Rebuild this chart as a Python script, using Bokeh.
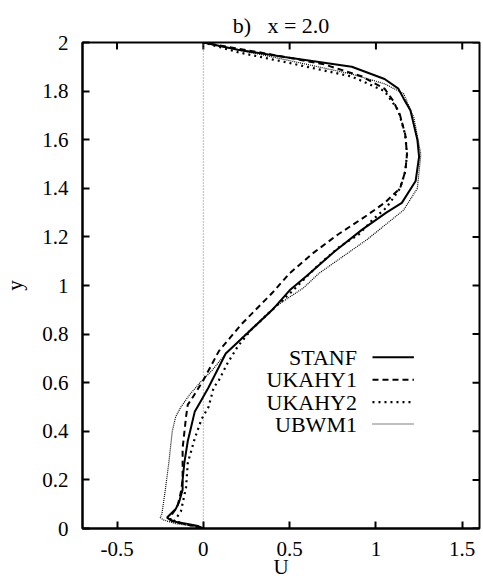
from bokeh.plotting import figure
from bokeh.models import Range1d, FixedTicker
from bokeh.core.properties import value
from bokeh.embed import file_html
from bokeh.resources import INLINE

# ---------------- data ----------------
series_names = ["STANF", "UKAHY1", "UKAHY2", "UBWM1"]

stanf_y = [0.0, 0.01, 0.02, 0.03, 0.045, 0.08, 0.11, 0.16, 0.2, 0.27, 0.36, 0.42, 0.48,
           0.53, 0.58, 0.65, 0.72, 0.82, 0.9, 0.98, 1.04, 1.14, 1.23, 1.30, 1.34, 1.43,
           1.53, 1.60, 1.66, 1.72, 1.77, 1.81, 1.85, 1.90, 1.94, 1.97, 2.0]
stanf_u = [0.0, -0.03, -0.10, -0.18, -0.21, -0.16, -0.14, -0.12, -0.12, -0.11, -0.09, -0.07, -0.05,
           -0.01, 0.03, 0.08, 0.13, 0.28, 0.40, 0.50, 0.60, 0.76, 0.92, 1.06, 1.15, 1.23,
           1.25, 1.24, 1.22, 1.20, 1.16, 1.13, 1.05, 0.86, 0.47, 0.20, 0.0]

ukahy1_y = [0.0, 0.01, 0.02, 0.035, 0.05, 0.09, 0.15, 0.2, 0.33, 0.46, 0.51, 0.53, 0.61,
            0.73, 0.84, 0.97, 1.05, 1.13, 1.21, 1.28, 1.34, 1.40, 1.47, 1.54, 1.62, 1.70,
            1.76, 1.81, 1.86, 1.91, 1.95, 2.0]
ukahy1_u = [0.0, -0.05, -0.12, -0.19, -0.19, -0.15, -0.13, -0.12, -0.12, -0.10, -0.09, -0.07, 0.0,
            0.09, 0.22, 0.40, 0.50, 0.63, 0.78, 0.93, 1.05, 1.14, 1.17, 1.18, 1.17, 1.14,
            1.10, 1.05, 0.92, 0.70, 0.40, 0.0]

ukahy2_y = [0.0, 0.01, 0.02, 0.03, 0.07, 0.17, 0.27, 0.37, 0.45, 0.5, 0.58, 0.61, 0.68,
            0.75, 0.82, 0.9, 0.98, 1.08, 1.16, 1.21, 1.27, 1.32, 1.40, 1.47, 1.54, 1.62,
            1.72, 1.80, 1.86, 1.92, 1.96, 2.0]
ukahy2_u = [0.0, -0.05, -0.12, -0.17, -0.13, -0.10, -0.09, -0.05, -0.01, 0.03, 0.06, 0.09, 0.14,
            0.20, 0.28, 0.40, 0.52, 0.66, 0.79, 0.90, 0.98, 1.06, 1.14, 1.17, 1.18, 1.17,
            1.13, 1.05, 0.86, 0.47, 0.20, 0.0]

ubwm1_y = [0.0, 0.01, 0.02, 0.035, 0.045, 0.06, 0.16, 0.27, 0.40, 0.46, 0.5, 0.55, 0.6,
           0.65, 0.72, 0.81, 0.91, 0.99, 1.05, 1.19, 1.31, 1.40, 1.54, 1.69, 1.79, 1.83,
           1.87, 1.93, 1.97, 2.0]
ubwm1_u = [0.0, -0.06, -0.16, -0.23, -0.25, -0.24, -0.22, -0.20, -0.18, -0.16, -0.13, -0.08, -0.02,
           0.05, 0.13, 0.26, 0.41, 0.58, 0.67, 0.95, 1.16, 1.24, 1.26, 1.22, 1.16, 1.05,
           0.86, 0.47, 0.20, 0.0]

x_ticks = [-0.5, 0.0, 0.5, 1.0, 1.5]
x_tick_labels = ["-0.5", "0", "0.5", "1", "1.5"]
y_ticks = [0.0, 0.2, 0.4, 0.6, 0.8, 1.0, 1.2, 1.4, 1.6, 1.8, 2.0]
y_tick_labels = ["0", "0.2", "0.4", "0.6", "0.8", "1", "1.2", "1.4", "1.6", "1.8", "2"]

zero_line_u = [0.0, 0.0]
zero_line_y = [0.0, 2.0]

title_text = "b)\u00a0\u00a0 x = 2.0"
x_label = "U"
y_label = "y"

# ---------------- layout / styles ----------------
FONT = "Liberation Serif"
W, H = 483, 581
B_LEFT, B_RIGHT, B_TOP, B_BOTTOM = 79, 4, 42, 53
X0, X1, Y0, Y1 = -0.7, 1.6, 0.0, 2.0
TICK_PX = 7

styles = [
    dict(line_width=2.0, line_dash="solid"),
    dict(line_width=2.0, line_dash="6 4"),
    dict(line_width=2.2, line_dash="2 4"),
    dict(line_width=1.2, line_dash="1 1"),
]

p = figure(width=W, height=H, output_backend="svg", toolbar_location=None,
           x_range=Range1d(X0, X1), y_range=Range1d(Y0, Y1),
           min_border_left=B_LEFT, min_border_right=B_RIGHT,
           min_border_top=B_TOP, min_border_bottom=B_BOTTOM,
           background_fill_color="white", border_fill_color="white")
p.grid.visible = False
p.outline_line_color = "black"
p.outline_line_width = 2

p.title.text = title_text
p.title.align = "center"
p.title.text_font = FONT
p.title.text_font_size = "22px"
p.title.text_font_style = "normal"
p.title.text_color = "black"

p.xaxis.axis_label = x_label
p.yaxis.axis_label = y_label

def style_axis(ax, ticks, labels):
    ax.ticker = FixedTicker(ticks=ticks)
    ax.major_label_overrides = {t: l for t, l in zip(ticks, labels)}
    ax.minor_tick_line_color = None
    ax.major_tick_in = TICK_PX
    ax.major_tick_out = 0
    ax.major_tick_line_width = 2
    ax.major_tick_line_color = "black"
    ax.axis_line_width = 2
    ax.axis_line_color = "black"
    ax.major_label_text_font = FONT
    ax.major_label_text_color = "black"
    ax.major_label_text_font_size = "21px"
    ax.axis_label_text_font = FONT
    ax.axis_label_text_font_style = "normal"
    ax.axis_label_text_font_size = "21px"
    ax.axis_label_text_color = "black"

style_axis(p.xaxis[0], x_ticks, x_tick_labels)
style_axis(p.yaxis[0], y_ticks, y_tick_labels)
p.xaxis[0].major_label_standoff = 13
p.xaxis[0].axis_label_standoff = -4
p.yaxis[0].major_label_standoff = 14
p.yaxis[0].axis_label_standoff = 12

frame_w = W - B_LEFT - B_RIGHT
frame_h = H - B_TOP - B_BOTTOM
px_x = (X1 - X0) / frame_w   # data units per pixel
px_y = (Y1 - Y0) / frame_h

# mirrored inward ticks on top and right edges
p.segment(x0=x_ticks, y0=[Y1] * len(x_ticks), x1=x_ticks, y1=[Y1 - TICK_PX * px_y] * len(x_ticks),
          line_color="black", line_width=2)
p.segment(x0=[X1] * len(y_ticks), y0=y_ticks, x1=[X1 - TICK_PX * px_x] * len(y_ticks), y1=y_ticks,
          line_color="black", line_width=2)

# zero line
p.line(zero_line_u, zero_line_y, line_color="#777777", line_width=1, line_dash="1 2")

all_u = [stanf_u, ukahy1_u, ukahy2_u, ubwm1_u]
all_y = [stanf_y, ukahy1_y, ukahy2_y, ubwm1_y]
for u, y, st in zip(all_u, all_y, styles):
    p.line(u, y, line_color="black", **st)

# manual legend (labels left of samples, as in the original)
leg_text_x = 0.89
leg_x0, leg_x1 = 0.98, 1.22
leg_rows = [0.705, 0.612, 0.520, 0.430]
p.text(x=[leg_text_x] * len(series_names), y=leg_rows, text=series_names,
       text_align="right", text_baseline="middle", text_font=value(FONT),
       text_font_size="22px", text_color="black")
for yy, st in zip(leg_rows, styles):
    p.line([leg_x0, leg_x1], [yy, yy], line_color="black", **st)

open("out.html", "w").write(file_html(p, INLINE))
